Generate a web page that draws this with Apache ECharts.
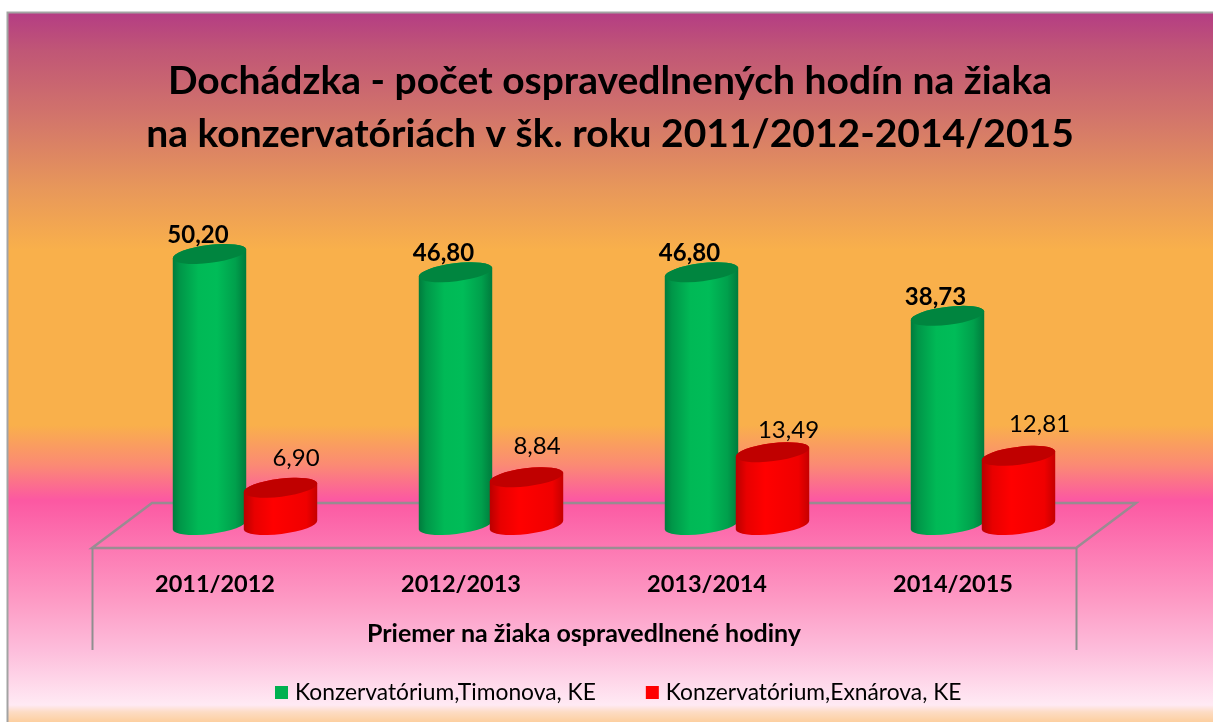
<!DOCTYPE html>
<html><head><meta charset="utf-8">
<style>html,body{margin:0;padding:0;background:#fff}#c{width:1213px;height:722px}</style>
<script src="https://cdn.jsdelivr.net/npm/echarts@6/dist/echarts.min.js"></script>
</head><body><div id="c"></div>
<script>
var categories = ['2011/2012','2012/2013','2013/2014','2014/2015'];
var timonova = [50.20,46.80,46.80,38.73];
var exnarova = [6.90,8.84,13.49,12.81];
var seriesNames = ['Konzervatórium,Timonova, KE','Konzervatórium,Exnárova, KE'];
var titleText = 'Dochádzka - počet ospravedlnených hodín na žiaka\nna konzervatóriách v šk. roku 2011/2012-2014/2015';
var axisTitle = 'Priemer na žiaka ospravedlnené hodiny';

var FONT = 'Lato, Carlito, "Open Sans", sans-serif';
var RX = 37, RY = 9, ROT = -7;
var sinR = Math.sin(ROT*Math.PI/180), cosR = Math.cos(ROT*Math.PI/180);

function ell(cx,cy){
  return {lx:cx-RX*cosR, ly:cy-RX*sinR, rx:cx+RX*cosR, ry:cy+RX*sinR};
}
function cylinder(offset, grad, topColor, bold, labelDx, labelDy){
  return function(params, api){
    var i = api.value(0), v = api.value(1);
    var t = api.coord([i,v]), b = api.coord([i,0]);
    var cx = t[0]+offset, T = ell(cx,t[1]), B = ell(cx,b[1]);
    var arc = 'A'+RX+' '+RY+' '+ROT+' 0 0 ';
    var body = 'M'+T.lx+' '+T.ly+'L'+B.lx+' '+B.ly+arc+B.rx+' '+B.ry+'L'+T.rx+' '+T.ry+arc+T.lx+' '+T.ly+'Z';
    var top = 'M'+T.lx+' '+T.ly+arc+T.rx+' '+T.ry+arc+T.lx+' '+T.ly+'Z';
    return {type:'group',children:[
      {type:'path',shape:{pathData:body},style:{fill:grad}},
      {type:'path',shape:{pathData:top},style:{fill:topColor}},
      {type:'text',z2:5,style:{text:v.toFixed(2).replace('.',','),x:cx+labelDx[i],y:t[1]+labelDy[i],
        align:'center',verticalAlign:'middle',font:(bold?'bold ':'')+'24px '+FONT,fill:'#000'}}
    ]};
  };
}
function hGrad(stops){
  return {type:'linear',x:0,y:0,x2:1,y2:0,colorStops:stops.map(function(s){return {offset:s[0],color:s[1]};})};
}
var greenStops = [[0,'#007a3c'],[.1,'#009648'],[.35,'#00b956'],[.6,'#00bc58'],[.85,'#00a04c'],[1,'#007a3c']];
var redStops = [[0,'#b80000'],[.15,'#e80000'],[.4,'#ff0000'],[.85,'#f00000'],[1,'#c40000']];
var bgStops = [[12,'#b43c84'],[50,'#c05676'],[120,'#d3766a'],[190,'#e8985a'],[250,'#f9b04b'],[425,'#f9b04b'],
  [465,'#fb8a74'],[500,'#fc58a2'],[600,'#fd9ac4'],[650,'#fdbddb'],[705,'#ffeaf4'],[712,'#fddcc4'],[722,'#fdcf9f']];

var chart = echarts.init(document.getElementById('c'));
chart.setOption({
  backgroundColor:'#fff',
  animation:false,
  title:{text:titleText,left:605,top:50,textAlign:'center',
    textStyle:{fontFamily:FONT,fontWeight:'bold',fontSize:39,lineHeight:53,color:'#000'}},
  legend:{left:270,top:676,itemWidth:13,itemHeight:13,itemGap:50,icon:'rect',
    textStyle:{fontFamily:FONT,fontSize:22.8,color:'#000',padding:[0,0,0,2]},
    data:seriesNames},
  grid:{left:92,width:984,top:201,height:324},
  xAxis:{type:'category',data:categories,
    axisLine:{show:false},axisTick:{show:false},
    axisLabel:{fontFamily:FONT,fontWeight:'bold',fontSize:23.5,color:'#000',margin:47},
    name:axisTitle,nameLocation:'middle',nameGap:96,
    nameTextStyle:{fontFamily:FONT,fontWeight:'bold',fontSize:25,color:'#000'}},
  yAxis:{type:'value',min:0,max:60,show:false},
  graphic:[
    {type:'rect',z:-10,silent:true,shape:{x:7,y:12,width:1206,height:710},
      style:{stroke:null,fill:{type:'linear',x:0,y:0,x2:0,y2:1,
        colorStops:bgStops.map(function(s){return {offset:(s[0]-12)/710,color:s[1]};})}}},
    {type:'polyline',z:-9,silent:true,shape:{points:[[7.5,722],[7.5,12.5],[1213,12.5]]},style:{stroke:'#a3a3a3',lineWidth:2,fill:null}},
    {type:'polygon',z:-8,silent:true,shape:{points:[[92,548],[152,503],[1136,503],[1076,548]]},style:{stroke:'#8f8f8f',lineWidth:2.5,fill:null,opacity:.9}},
    {type:'line',z:-8,silent:true,shape:{x1:92.5,y1:548,x2:92.5,y2:650},style:{stroke:'#8f8f8f',lineWidth:2}},
    {type:'line',z:-8,silent:true,shape:{x1:1076.5,y1:548,x2:1076.5,y2:650},style:{stroke:'#8f8f8f',lineWidth:2}}
  ],
  series:[
    {name:seriesNames[0],type:'custom',coordinateSystem:'cartesian2d',itemStyle:{color:'#00b050'},
      encode:{x:0,y:1},data:timonova.map(function(v,i){return [i,v];}),
      renderItem:cylinder(-5.5,hGrad(greenStops),'#00853f',true,[-11.5,-12,-12,-12],[-19,-19,-19,-19])},
    {name:seriesNames[1],type:'custom',coordinateSystem:'cartesian2d',itemStyle:{color:'#ff0000'},
      encode:{x:0,y:1},data:exnarova.map(function(v,i){return [i,v];}),
      renderItem:cylinder(65.5,hGrad(redStops),'#c00000',false,[15.5,10.5,16,21],[-29,-31,-22,-32])}
  ]
});
</script></body></html>
